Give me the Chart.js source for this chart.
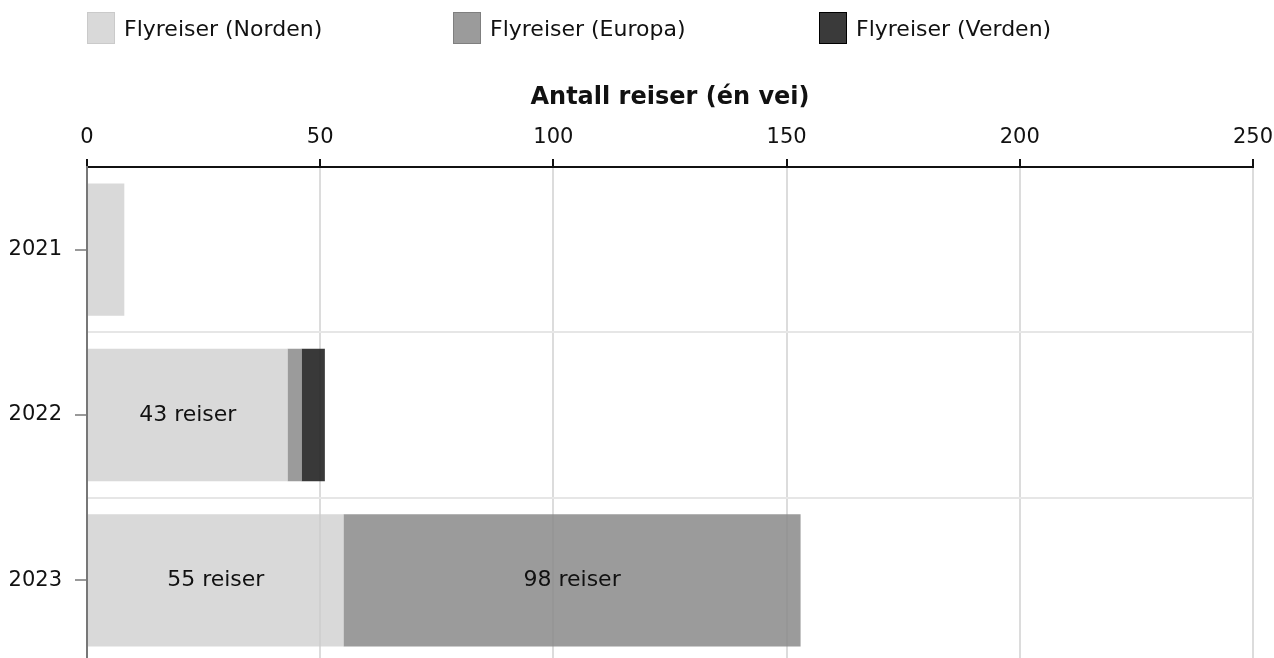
<!DOCTYPE html>
<html>
<head>
<meta charset="utf-8">
<script src="https://cdn.jsdelivr.net/npm/chart.js@4/dist/chart.umd.min.js"></script>
<style>
  html, body { margin: 0; padding: 0; background: #fff; overflow: hidden; }
  #wrap { position: relative; width: 1274px; height: 666px; }
  #legend { position: absolute; left: 87px; top: 12px; display: flex; font-family: "DejaVu Sans", Verdana, sans-serif; font-size: 22px; color: #111; }
  .item { width: 366px; display: flex; align-items: center; height: 32px; }
  .box { width: 26px; height: 30px; border: 1.5px solid; margin-right: 9px; }
</style>
</head>
<body>
<div id="wrap">
  <canvas id="chart" width="1274" height="666"></canvas>
  <div id="legend"></div>
</div>
<script>
// Flyreiser per år, antall reiser (én vei)
const years = ['2021', '2022', '2023'];
const seriesNames = ['Flyreiser (Norden)', 'Flyreiser (Europa)', 'Flyreiser (Verden)'];
const norden = [8, 43, 55];
const europa = [0, 3, 98];
const verden = [0, 5, 0];

const fills = ['rgba(204,204,204,0.75)', 'rgba(137,137,137,0.85)', 'rgba(36,36,36,0.9)'];
const legendFills = ['#d9d9d9', '#9b9b9b', '#3a3a3a'];
const legendBorders = ['#cacaca', '#7f7f7f', '#000000'];

const FONT = '"DejaVu Sans", Verdana, sans-serif';

// legend i HTML
const legendEl = document.getElementById('legend');
legendEl.innerHTML = seriesNames.map((n, i) =>
  `<div class="item"><div class="box" style="background:${legendFills[i]};border-color:${legendBorders[i]}"></div>${n}</div>`
).join('');

// tekst midt i søylene
const barLabels = {
  id: 'barLabels',
  afterDatasetsDraw(chart) {
    const ctx = chart.ctx;
    ctx.save();
    ctx.font = `22px ${FONT}`;
    ctx.fillStyle = '#111';
    ctx.textAlign = 'center';
    ctx.textBaseline = 'middle';
    chart.data.datasets.forEach((ds, i) => {
      chart.getDatasetMeta(i).data.forEach((bar, j) => {
        const v = ds.data[j];
        if (v >= 20) {
          ctx.fillText(`${v} reiser`, (bar.x + bar.base) / 2, bar.y);
        }
      });
    });
    ctx.restore();
  }
};

new Chart(document.getElementById('chart'), {
  type: 'bar',
  data: {
    labels: years,
    datasets: [
      { label: seriesNames[0], data: norden, backgroundColor: fills[0] },
      { label: seriesNames[1], data: europa, backgroundColor: fills[1] },
      { label: seriesNames[2], data: verden, backgroundColor: fills[2] }
    ]
  },
  options: {
    indexAxis: 'y',
    responsive: false,
    animation: false,
    layout: { padding: { top: 79, left: 9, right: 0, bottom: 3 } },
    datasets: { bar: { barPercentage: 0.8, categoryPercentage: 1 } },
    plugins: {
      legend: { display: false },
      tooltip: { enabled: false }
    },
    scales: {
      x: {
        position: 'top',
        stacked: true,
        min: 0,
        max: 250,
        ticks: { stepSize: 50, color: '#111', padding: 9, font: { family: FONT, size: 21 } },
        grid: { color: '#dcdcdc', lineWidth: 2, tickColor: '#111', tickLength: 8 },
        border: { color: '#111', width: 2 },
        title: {
          display: true,
          text: 'Antall reiser (én vei)',
          color: '#111',
          padding: { top: 4, bottom: 4 },
          font: { family: FONT, size: 24, weight: 'bold' }
        },
        afterFit: (s) => { s.paddingLeft = 0; s.paddingRight = 21; }
      },
      y: {
        stacked: true,
        ticks: { color: '#111', padding: 13, font: { family: FONT, size: 21 } },
        grid: { offset: false, drawOnChartArea: false, tickColor: '#999', tickLength: 12, lineWidth: 2 },
        border: { color: '#777', width: 2 },
        afterFit: (s) => { s.width = 78; s.paddingTop = 0; s.paddingBottom = 0; }
      },
      y2: {
        type: 'category',
        labels: years,
        position: 'left',
        offset: true,
        ticks: { display: false },
        grid: { offset: true, color: '#e6e6e6', lineWidth: 2, drawTicks: false },
        border: { display: false },
        afterFit: (s) => { s.width = 0; s.paddingTop = 0; s.paddingBottom = 0; }
      }
    }
  },
  plugins: [barLabels]
});
</script>
</body>
</html>
